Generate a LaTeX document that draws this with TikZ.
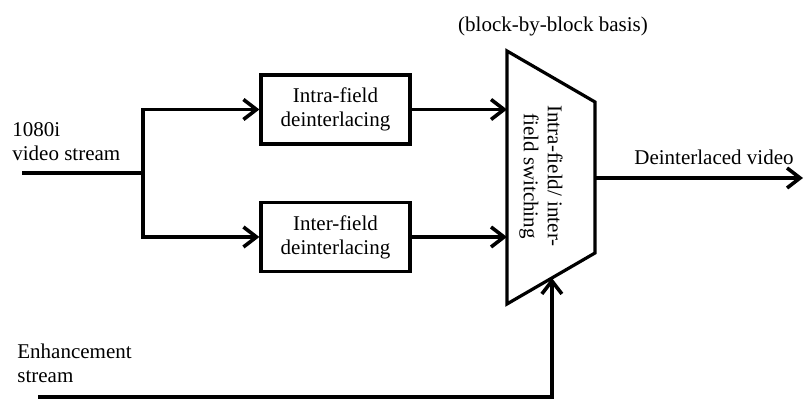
\documentclass[tikz,border=0pt]{standalone}
\usepackage{fontspec}
\setmainfont{Liberation Serif}
\usepackage{tikz}
\usetikzlibrary{arrows.meta,positioning,calc}

\begin{document}
\begin{tikzpicture}[x=0.5pt,y=-0.5pt,
font=\fontsize{10.5}{12}\selectfont,
mybox/.style={draw=black, line width=1.6pt, align=center,
minimum width=74.5pt, minimum height=34.5pt, inner sep=0pt},
mylabel/.style={align=left, inner sep=0pt},
flow/.style={line width=1.8pt, -{Straight Barb[length=6.5pt,width=10pt]}}]
\useasboundingbox (0,0) rectangle (804,399);
\node[mybox] (intra) at (335.5,109.5) {Intra-field\\deinterlacing};
\node[mybox] (inter) at (335.5,237) {Inter-field\\deinterlacing};
% switching block
\coordinate (muxTL) at (507,51);
\coordinate (muxTR) at (595,102);
\coordinate (muxBR) at (595,253);
\coordinate (muxBL) at (507,304);
\draw[line width=1.6pt, line join=miter] (muxTL) -- (muxTR) -- (muxBR) -- (muxBL) -- cycle;
\node[rotate=-90, align=center] (muxtext) at (541,176) {Intra-field/ inter-\\field switching};
\node (basis) at (553,26) {(block-by-block basis)};
% inputs
\coordinate (in) at (22,173);
\coordinate (split) at (143,173);
\node[mylabel, anchor=west] (srclabel) at (12,142) {1080i\\video stream};
\draw[flow] (in) -- (split) |- (intra.west);
\draw[flow] (split) |- (inter.west);
\draw[flow] (intra.east) -- (intra -| muxTL);
\draw[flow] (inter.east) -- (inter -| muxTL);
% output
\coordinate (muxout) at (595,178);
\coordinate (out) at (803,178);
\draw[flow] (muxout) -- (out);
\node (outlabel) at (714,157) {Deinterlaced video};
% enhancement control
\coordinate (enh) at (38,397);
\coordinate (muxctl) at ($(muxBL)!0.51!(muxBR)$);
\node[mylabel, anchor=west] (enhlabel) at (17,363) {Enhancement\\stream};
\draw[flow] (enh) -| (muxctl);
\end{tikzpicture}
\end{document}
